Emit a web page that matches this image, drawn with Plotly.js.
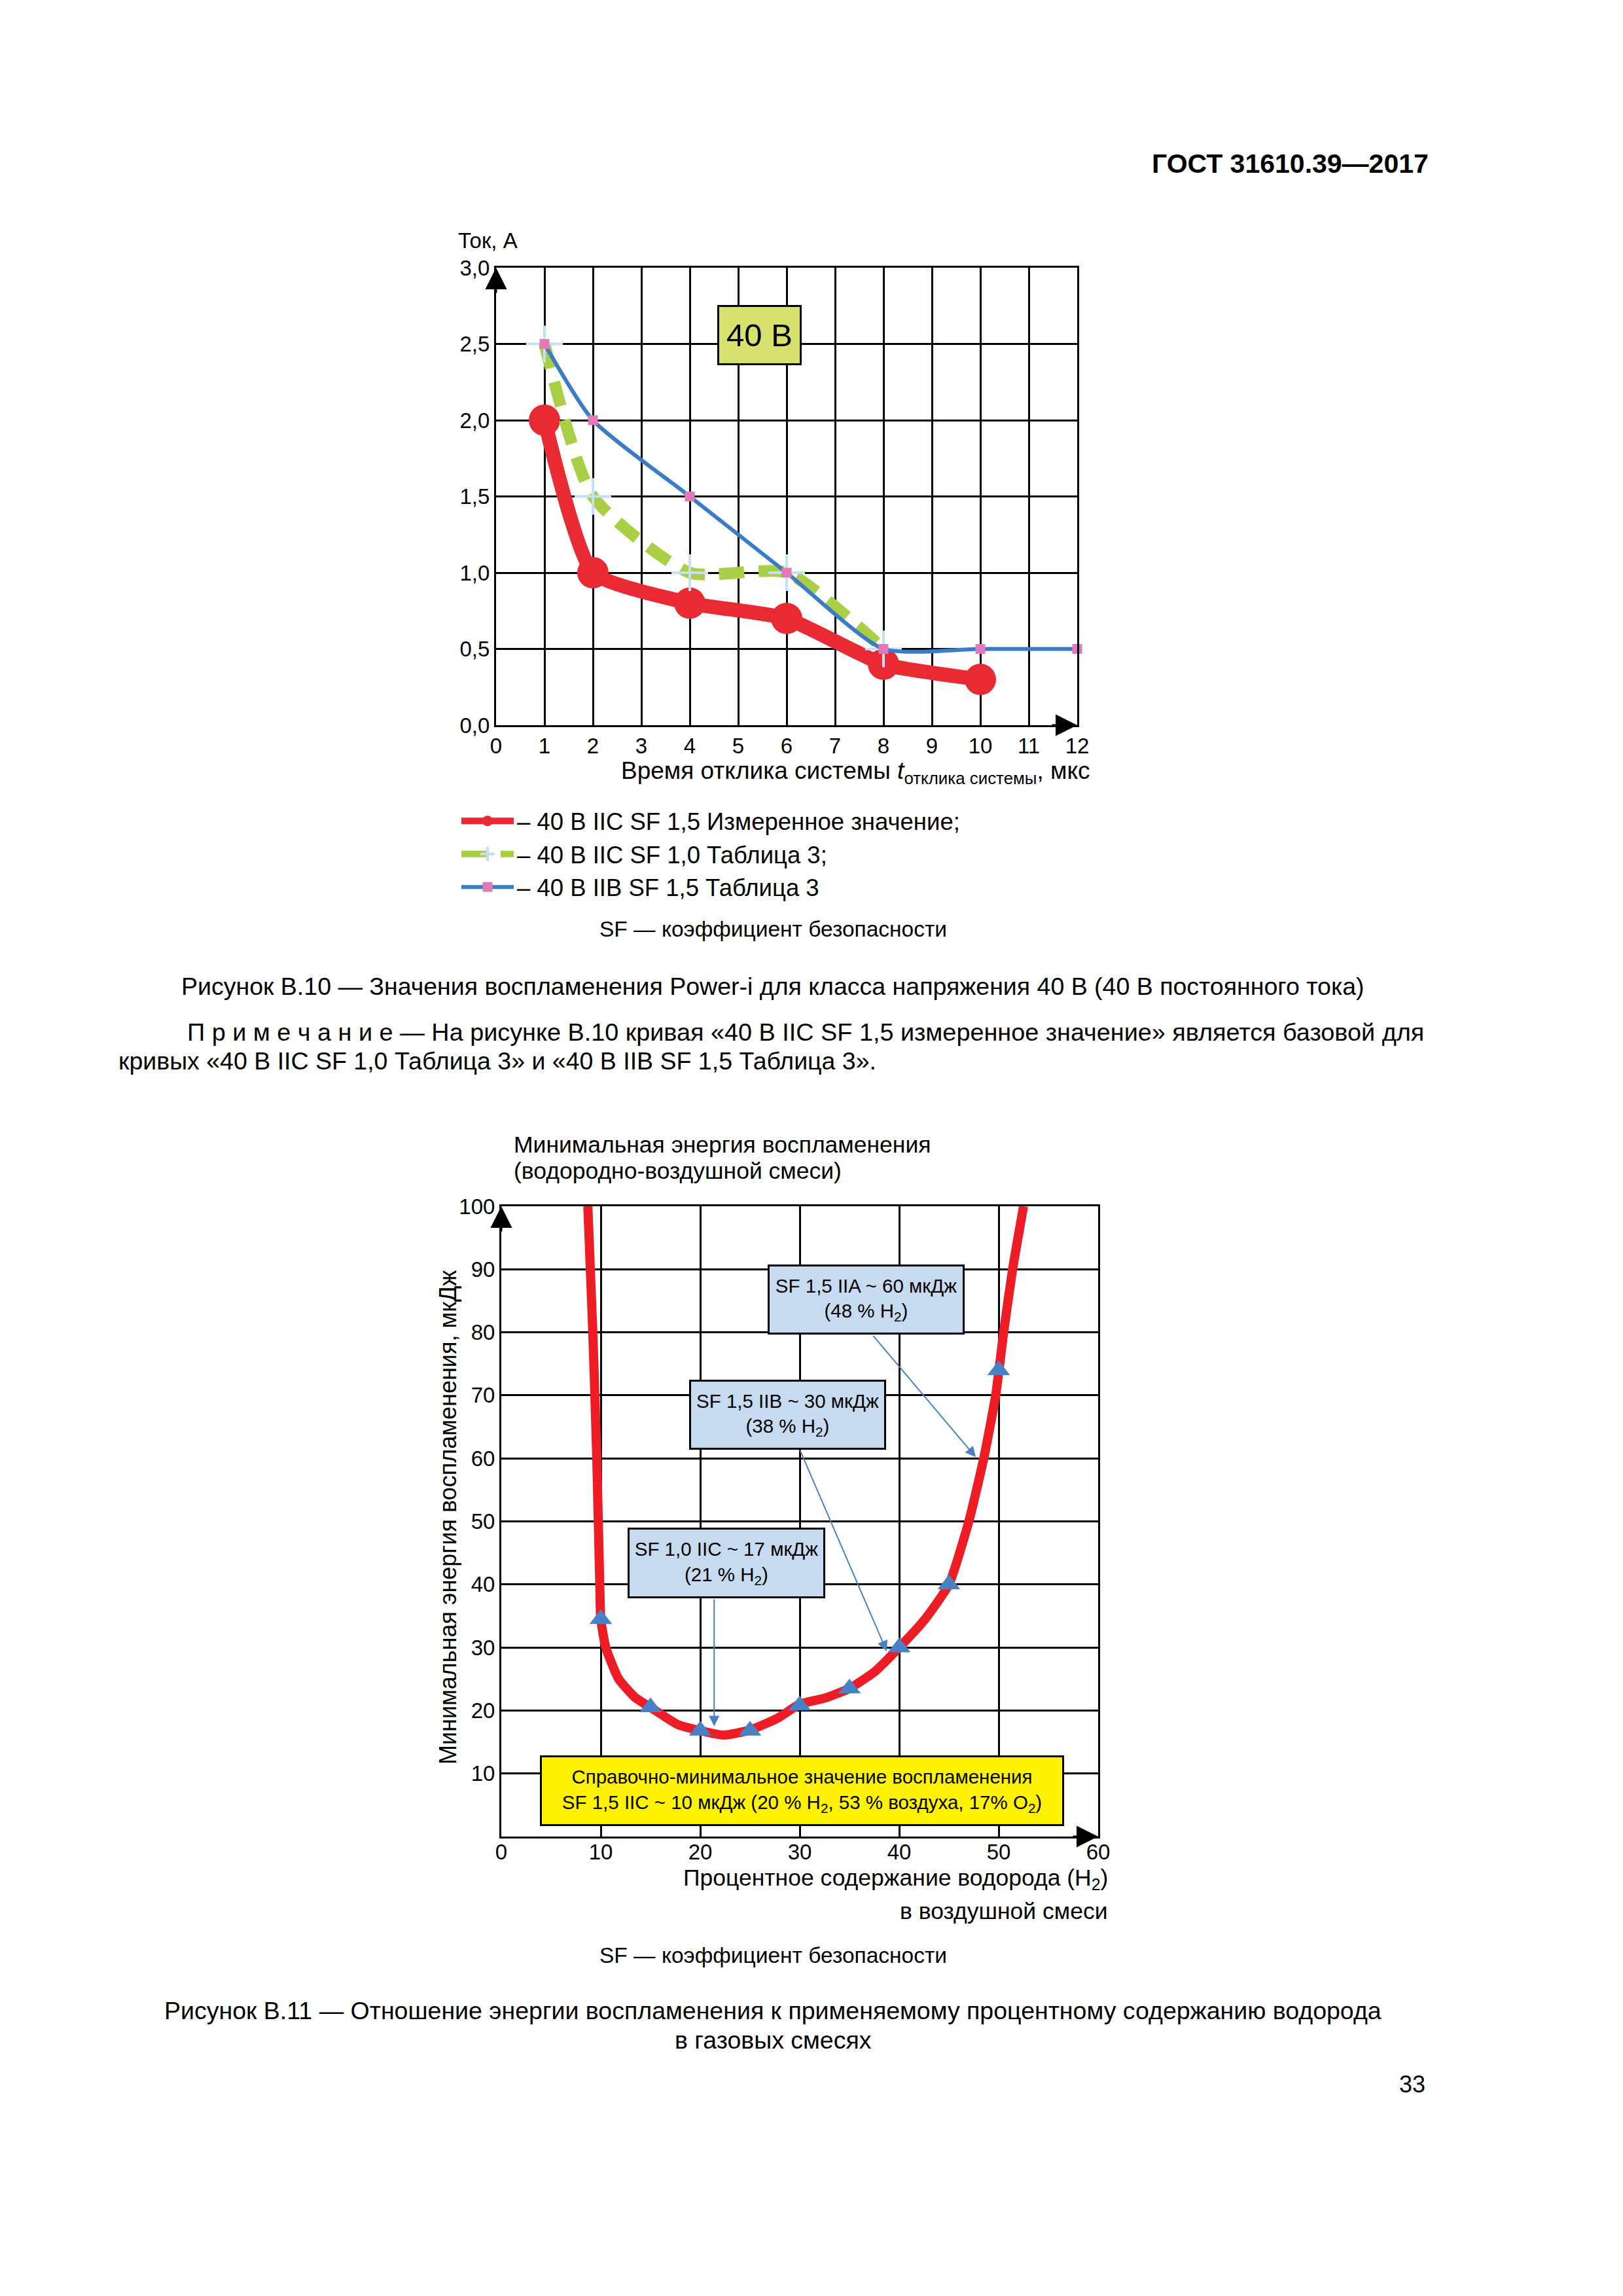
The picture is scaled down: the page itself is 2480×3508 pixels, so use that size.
<!DOCTYPE html>
<html>
<head>
<meta charset="utf-8">
<script src="https://cdn.plot.ly/plotly-3.0.1.min.js"></script>
<style>html,body{margin:0;padding:0;background:#fff;}#page{width:2480px;height:3508px;}</style>
</head>
<body>
<div id="page"></div>
<script>
// ---------- Figure B.10 data ----------
const tMeasured = [1, 2, 4, 6, 8, 10];
const iMeasured = [2.0, 1.0, 0.8, 0.7, 0.4, 0.3];
const tIIC10 = [1, 2, 4, 6, 8];
const iIIC10 = [2.5, 1.5, 1.0, 1.0, 0.5];
const tIIB15 = [1, 2, 4, 6, 8, 10, 12];
const iIIB15 = [2.5, 2.0, 1.5, 1.0, 0.5, 0.5, 0.5];
const legendNames = [
  '– 40 В IIC SF 1,5 Измеренное значение;',
  '– 40 В IIC SF 1,0 Таблица 3;',
  '– 40 В IIB SF 1,5 Таблица 3'
];
const xTicks1 = [0,1,2,3,4,5,6,7,8,9,10,11,12];
const yTicks1 = [0, 0.5, 1.0, 1.5, 2.0, 2.5, 3.0];

// ---------- Figure B.11 data ----------
const h2Curve = [8.7, 9.2, 9.6, 9.9, 10, 10.5, 11.8, 13.5, 15, 17.7, 20, 22.4, 25, 27.8, 30, 32.6, 35, 37.5, 40, 42.6, 45, 47, 48.5, 49.7, 50.5, 51.4, 52.5];
const eCurve  = [100, 80, 60, 40, 34.5, 30, 25, 22, 20.5, 17.8, 16.8, 16.1, 16.9, 18.8, 21, 22.0, 23.5, 26.1, 30, 34.5, 40, 50, 60, 70, 80, 90, 100];
const h2Points = [10, 15, 20, 25, 30, 35, 40, 45, 50];
const ePoints  = [34.5, 20.5, 16.8, 16.8, 20.8, 23.5, 30, 40, 74];
const xTicks2 = [0, 10, 20, 30, 40, 50, 60];
const yTicks2 = [10, 20, 30, 40, 50, 60, 70, 80, 90, 100];

const FONT = 'Liberation Sans, Arial, Helvetica, sans-serif';
const W = 2480, H = 3508;
const px = v => v / W;
const py = v => 1 - v / H;

// plot-area frames (page pixels)
const P1 = {l: 758, r: 1646, t: 409, b: 1108};
const P2 = {l: 766, r: 1678, t: 1843, b: 2806};

const RED1 = '#ea2a33', GREEN = '#a9cf46', BLUE = '#3a7cc8', PINK = '#e07ab8', CROSS = '#c4e0f2';
const RED2 = '#ee1c25', TRI = '#4a80c4', BOXBLUE = '#c6dbef', YELLOW = '#fff200';

const traces = [
  {x: tMeasured, y: iMeasured, xaxis: 'x', yaxis: 'y', type: 'scatter', mode: 'lines+markers',
   name: legendNames[0], line: {color: RED1, width: 22, shape: 'spline', smoothing: 0.5},
   marker: {color: RED1, size: 48, symbol: 'circle'}, cliponaxis: false},
  {x: tIIC10, y: iIIC10, xaxis: 'x', yaxis: 'y', type: 'scatter', mode: 'lines+markers',
   name: legendNames[1], line: {color: GREEN, width: 18, dash: '38px,22px', shape: 'spline', smoothing: 0.6},
   marker: {symbol: 'cross-thin', size: 40, color: CROSS, line: {color: CROSS, width: 4}}, cliponaxis: false},
  {x: tIIB15, y: iIIB15, xaxis: 'x', yaxis: 'y', type: 'scatter', mode: 'lines+markers',
   name: legendNames[2], line: {color: BLUE, width: 6, shape: 'spline', smoothing: 0.6},
   marker: {symbol: 'square', size: 15, color: PINK}, cliponaxis: false},
  {x: h2Curve, y: eCurve, xaxis: 'x2', yaxis: 'y2', type: 'scatter', mode: 'lines',
   line: {color: RED2, width: 14, shape: 'spline', smoothing: 0.5}, showlegend: false, hoverinfo: 'skip'},
  {x: h2Points, y: ePoints, xaxis: 'x2', yaxis: 'y2', type: 'scatter', mode: 'markers',
   marker: {symbol: 'triangle-up', size: 30, color: TRI}, showlegend: false, cliponaxis: false}
];

const axisCommon = {
  showgrid: true, gridcolor: '#000', gridwidth: 3, showline: true, linecolor: '#000', linewidth: 3,
  mirror: true, zeroline: false, ticks: '', fixedrange: true,
  tickfont: {family: FONT, size: 33, color: '#000'}
};

const annotations = [];
function txt(text, x, y, size, xanchor, opts) {
  annotations.push(Object.assign({
    xref: 'paper', yref: 'paper', x: px(x), y: py(y), text: text, showarrow: false,
    xanchor: xanchor || 'left', yanchor: 'middle', font: {family: FONT, size: size, color: '#000'}
  }, opts || {}));
}
// page text
txt('<b>ГОСТ 31610.39—2017</b>', 2185, 250, 41, 'right');
txt('Ток, А', 698, 368, 33, 'left');
txt('Время отклика системы <i>t</i><sub>отклика системы</sub>, мкс', 1668, 1180, 37, 'right');
txt('SF — коэффициент безопасности', 1181, 1419, 33.5, 'center');
txt('Рисунок В.10 — Значения воспламенения Power-i для класса напряжения 40 В (40 В постоянного тока)', 1181, 1507, 37.5, 'center');
txt('П р и м е ч а н и е — На рисунке В.10 кривая «40 В IIC SF 1,5 измеренное значение» является базовой для', 284, 1577, 37.8, 'left');
txt('кривых «40 В IIC SF 1,0 Таблица 3» и «40 В IIB SF 1,5 Таблица 3».', 179, 1621, 37.5, 'left');
txt('Минимальная энергия воспламенения', 783, 1749, 35.5, 'left');
txt('(водородно-воздушной смеси)', 783, 1789, 35.5, 'left');
txt('Минимальная энергия воспламенения, мкДж', 684, 2319, 36, 'center', {textangle: -90});
txt('Процентное содержание водорода (H<sub>2</sub>)', 1695, 2871, 35.5, 'right');
txt('в воздушной смеси', 1695, 2920, 35.5, 'right');
txt('SF — коэффициент безопасности', 1181, 2987, 33.5, 'center');
txt('Рисунок В.11 — Отношение энергии воспламенения к применяемому процентному содержанию водорода', 1181, 3072, 37.5, 'center');
txt('в газовых смесях', 1181, 3117, 37.5, 'center');
txt('33', 2180, 3184, 36, 'right');

// chart 1 label box
annotations.push({xref: 'x', yref: 'y', x: 5.44, y: 2.56, text: '40 В', showarrow: false,
  font: {family: FONT, size: 49, color: '#000'}, bgcolor: '#d7e26e', bordercolor: '#000',
  borderwidth: 3, borderpad: 0, width: 123, height: 86});

// axis arrowheads (at the ends of the axis ranges)
function axisArrow(xr, yr, x, y, ax, ay) {
  annotations.push({xref: xr, yref: yr, x: x, y: y, ax: ax, ay: ay, text: '', showarrow: true,
    arrowhead: 2, arrowsize: 2.2, arrowwidth: 3, arrowcolor: '#000'});
}
axisArrow('x', 'y', 0, 3, 0, 40);
axisArrow('x', 'y', 12, 0, -40, 0);
axisArrow('x2', 'y2', 0, 100, 0, 40);
axisArrow('x2', 'y2', 60, 0, -40, 0);

// chart 2 callout boxes and their arrows
function box(text, x, y, w, h, bg) {
  annotations.push({xref: 'x2', yref: 'y2', x: x, y: y, text: text, showarrow: false,
    font: {family: FONT, size: 29.5, color: '#000'}, bgcolor: bg, bordercolor: '#000',
    borderwidth: 3, borderpad: 0, width: w, height: h, align: 'center'});
}
function arrow(x0, y0, x1, y1) {
  annotations.push({xref: 'x2', yref: 'y2', axref: 'x2', ayref: 'y2', x: x1, y: y1, ax: x0, ay: y0,
    text: '', showarrow: true, arrowhead: 2, arrowsize: 1.6, arrowwidth: 2, arrowcolor: TRI});
}
arrow(37.3, 79.6, 47.7, 60.2);
arrow(30.0, 61.4, 38.75, 29.4);
arrow(21.4, 37.8, 21.4, 17.5);
box('SF 1,5 IIA ~ 60 мкДж<br>(48 % H<sub>2</sub>)', 36.68, 85.2, 295, 101, BOXBLUE);
box('SF 1,5 IIB ~ 30 мкДж<br>(38 % H<sub>2</sub>)', 28.78, 66.9, 295, 101, BOXBLUE);
box('SF 1,0 IIC ~ 17 мкДж<br>(21 % H<sub>2</sub>)', 22.63, 43.4, 296, 102, BOXBLUE);
box('Справочно-минимальное значение воспламенения<br>SF 1,5 IIC ~ 10 мкДж (20 % H<sub>2</sub>, 53 % воздуха, 17% O<sub>2</sub>)', 30.23, 7.27, 795, 102, YELLOW);

const layout = {
  width: W, height: H,
  margin: {l: 0, r: 0, t: 0, b: 0, pad: 0},
  paper_bgcolor: '#fff', plot_bgcolor: '#fff',
  separators: ', ',
  font: {family: FONT, color: '#000'},
  showlegend: true,
  legend: {x: px(700), y: py(1224), xanchor: 'left', yanchor: 'top', bgcolor: 'rgba(0,0,0,0)',
    font: {family: FONT, size: 36.5, color: '#000'}, itemwidth: 80, traceorder: 'normal'},
  xaxis: Object.assign({}, axisCommon, {domain: [px(P1.l), px(P1.r)], range: [0, 12],
    tickvals: xTicks1, anchor: 'y'}),
  yaxis: Object.assign({}, axisCommon, {domain: [py(P1.b), py(P1.t)], range: [0, 3],
    tickvals: yTicks1, tickformat: '.1f', anchor: 'x'}),
  xaxis2: Object.assign({}, axisCommon, {domain: [px(P2.l), px(P2.r)], range: [0, 60],
    tickvals: xTicks2, anchor: 'y2', ticklabelstandoff: -8}),
  yaxis2: Object.assign({}, axisCommon, {domain: [py(P2.b), py(P2.t)], range: [0, 100],
    tickvals: yTicks2, anchor: 'x2'}),
  annotations: annotations
};

Plotly.newPlot('page', traces, layout, {staticPlot: true, displayModeBar: false});
</script>
</body>
</html>
